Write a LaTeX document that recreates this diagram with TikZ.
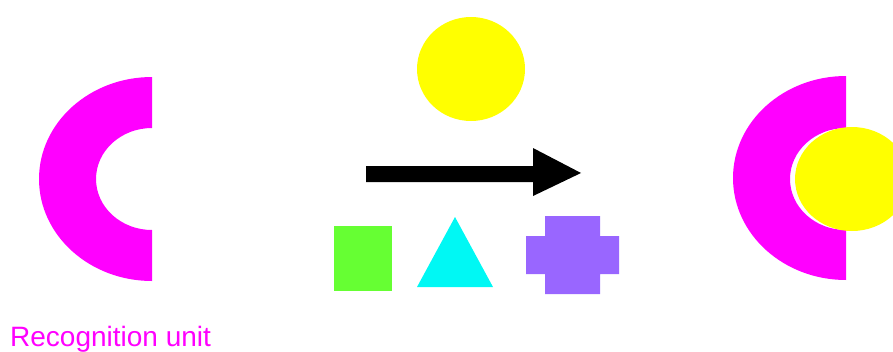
\documentclass[tikz,border=0pt]{standalone}
\usepackage{fontspec}
\setmainfont{Liberation Sans}
\usetikzlibrary{positioning}

\definecolor{unitpink}{HTML}{FF00FF}
\definecolor{sunyellow}{HTML}{FFFF00}
\definecolor{boxgreen}{HTML}{66FF33}
\definecolor{tricyan}{HTML}{00F8F4}
\definecolor{crosspurple}{HTML}{9966FF}

\begin{document}
\begin{tikzpicture}[x=1pt, y=-1pt,
    unit/.style={fill=unitpink},
    ball/.style={fill=sunyellow},
    label/.style={
        text=unitpink,
        font=\fontsize{28}{32}\selectfont,
        inner sep=0pt,
        anchor=base west
    }
]
\useasboundingbox (0,0) rectangle (893,351);
\clip (0,0) rectangle (893,351);

% recognition unit (left)
\fill[unit] (152,77) arc[start angle=-90, end angle=-270, x radius=113, y radius=102]
    -- (152,230) arc[start angle=90, end angle=270, x radius=56, y radius=51] -- cycle;

% free ball and the arrow
\fill[ball] (471,69) ellipse[x radius=54, y radius=52];
\fill[black] (366,166) -- (533,166) -- (533,148) -- (581,173)
    -- (533,196) -- (533,182) -- (366,182) -- cycle;

% other shapes
\fill[boxgreen] (334,226) rectangle (392,291);
\fill[tricyan] (455,217) -- (493,287) -- (417,287) -- cycle;
\fill[crosspurple] (545,216) -- (600,216) -- (600,236) -- (619,236) -- (619,274)
    -- (600,274) -- (600,294) -- (545,294) -- (545,274) -- (526,274)
    -- (526,236) -- (545,236) -- cycle;

% bound unit (right)
\fill[unit] (846,76) arc[start angle=-90, end angle=-270, x radius=113, y radius=102]
    -- (846,230) arc[start angle=90, end angle=270, x radius=56, y radius=51] -- cycle;
\fill[ball] (852,179) ellipse[x radius=57, y radius=52];

\node[label] (unitname) at (10,346) {Recognition unit};
\end{tikzpicture}
\end{document}
